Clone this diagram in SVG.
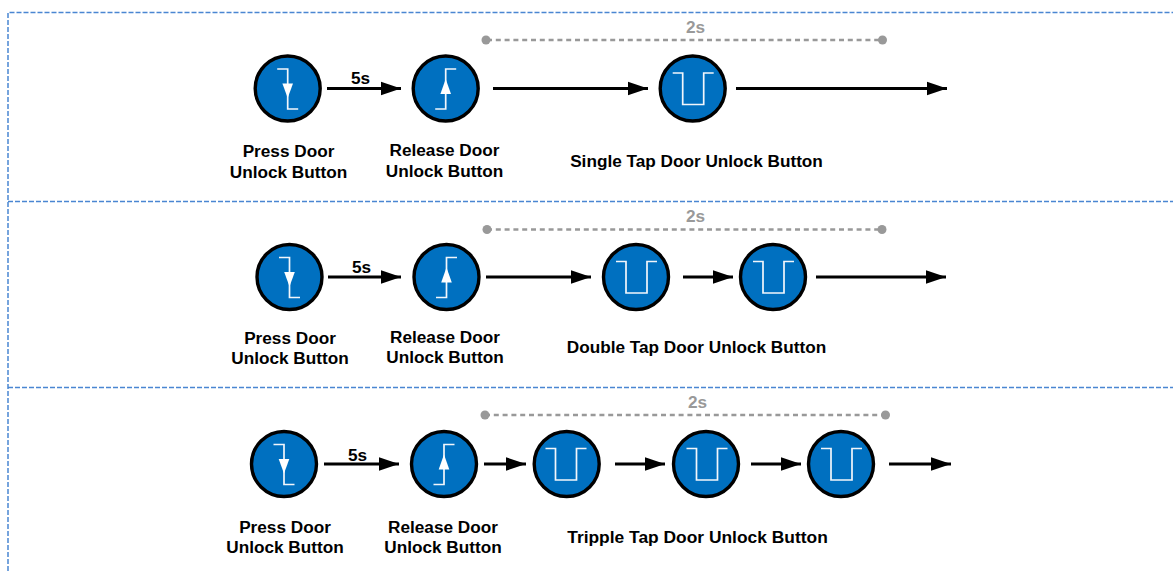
<svg xmlns="http://www.w3.org/2000/svg" width="1173" height="571" viewBox="0 0 1173 571">
<style>
text{font-family:"Liberation Sans",Arial,sans-serif;font-weight:bold;font-size:17.200px;fill:#000;text-anchor:middle}
.t{fill:#999}
.b{fill:#0070c0;stroke:#000;stroke-width:3.400}
.s{fill:none;stroke:#f2f6fb;stroke-width:1.700}
.dash{fill:none;stroke:#4a86d2;stroke-width:1.500;stroke-dasharray:5 2}
.d{stroke:#999;stroke-width:2.500;stroke-dasharray:5 3.800;fill:none}
.e{fill:#999}
.c{stroke:#000;stroke-width:2.800;fill:none;marker-end:url(#a)}
</style>
<defs>
<marker id="a" markerUnits="userSpaceOnUse" markerWidth="21" markerHeight="15" refX="20" refY="7.500" orient="auto"><path d="M0 0.700L20 7.500L0 14.300Z" fill="#000"/></marker>
<g id="press"><circle class="b" r="32.500"/><path class="s" d="M-10.500-19.500H0V20.500H10.500"/><path d="M-5.300-5H5.300L0 9.500Z" fill="#fff"/></g>
<g id="release"><circle class="b" r="32.500"/><path class="s" d="M10.500-19.500H0V20.500H-10.500"/><path d="M-5.300 5.500H5.300L0-9.500Z" fill="#fff"/></g>
<circle id="disc" class="b" r="32.500"/>
<path id="wave" class="s" d="M-20-15.500H-10V16H11V-15.500H21"/>
</defs>
<g id="frame">
<path class="dash" d="M8 571V12.500H1173"/>
<path class="dash" d="M8 201.500H1173"/>
<path class="dash" d="M8 387.500H1173"/>
</g>
<g id="connectors">
<path class="c" d="M327 88.500H401"/>
<path class="c" d="M493 88.500H648"/>
<path class="c" d="M736 88.500H947"/>
<path class="c" d="M328 277H401"/>
<path class="c" d="M486 277H591"/>
<path class="c" d="M683 277H733"/>
<path class="c" d="M816 277H946"/>
<path class="c" d="M324 464H399"/>
<path class="c" d="M484 464H526"/>
<path class="c" d="M615 464H665"/>
<path class="c" d="M751 464H801"/>
<path class="c" d="M889 464H951"/>
<path class="d" d="M487 40H882"/>
<path class="d" d="M487 229.500H882"/>
<path class="d" d="M485 415H885"/>
</g>
<g id="timer1"><circle class="e" cx="486" cy="40" r="4.500"/><circle class="e" cx="882.500" cy="40" r="4.500"/><text class="t" x="695.500" y="33">2s</text></g>
<g id="timer2"><circle class="e" cx="487" cy="229.500" r="4.500"/><circle class="e" cx="882" cy="229.500" r="4.500"/><text class="t" x="695.500" y="222">2s</text></g>
<g id="timer3"><circle class="e" cx="485" cy="415" r="4.500"/><circle class="e" cx="885.500" cy="415" r="4.500"/><text class="t" x="697.500" y="408">2s</text></g>
<g id="row1-press"><use href="#press" x="287.700" y="88.500"/><text x="288.500" y="156.500">Press Door</text><text x="288.500" y="177.500">Unlock Button</text></g>
<text x="360.500" y="84">5s</text>
<g id="row1-release"><use href="#release" x="445.700" y="88.500"/><text x="444.500" y="155.500">Release Door</text><text x="444.500" y="176.500">Unlock Button</text></g>
<g id="row1-tap"><use href="#disc" x="692.700" y="88.500"/><use href="#wave" x="692.700" y="88.500"/><text x="696.500" y="166.500">Single Tap Door Unlock Button</text></g>
<g id="row2-press"><use href="#press" x="289.500" y="277"/><text x="290" y="343.500">Press Door</text><text x="290" y="363.500">Unlock Button</text></g>
<text x="361.500" y="272.500">5s</text>
<g id="row2-release"><use href="#release" x="446.500" y="277"/><text x="445" y="342.500">Release Door</text><text x="445" y="362.500">Unlock Button</text></g>
<g id="row2-tap1"><use href="#disc" x="636" y="277"/><use href="#wave" x="636" y="277"/></g>
<g id="row2-tap2"><use href="#disc" x="773" y="277"/><use href="#wave" x="773" y="277"/><text x="696.500" y="352.500">Double Tap Door Unlock Button</text></g>
<g id="row3-press"><use href="#press" x="284" y="464"/><text x="285" y="532.500">Press Door</text><text x="285" y="552.500">Unlock Button</text></g>
<text x="357.500" y="460.500">5s</text>
<g id="row3-release"><use href="#release" x="444" y="464"/><text x="443" y="532.500">Release Door</text><text x="443" y="552.500">Unlock Button</text></g>
<g id="row3-tap1"><use href="#disc" x="566.700" y="464"/><use href="#wave" x="565.500" y="464"/></g>
<g id="row3-tap2"><use href="#disc" x="706" y="464"/><use href="#wave" x="706.500" y="464"/><text x="697.500" y="542.500" style="font-size:17.400px">Tripple Tap Door Unlock Button</text></g>
<g id="row3-tap3"><use href="#disc" x="841" y="464"/><use href="#wave" x="841" y="464"/></g>
</svg>
